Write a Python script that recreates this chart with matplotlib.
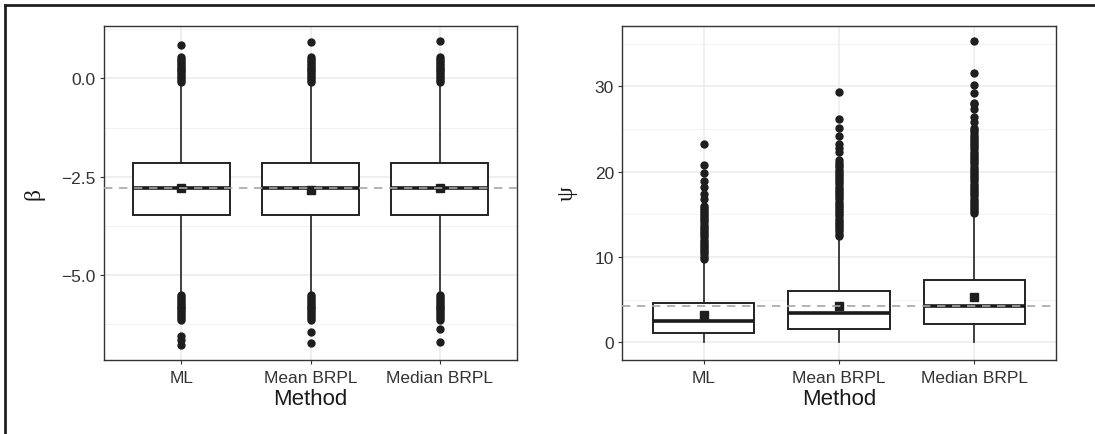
import matplotlib
matplotlib.use("Agg")
import matplotlib.pyplot as plt
from matplotlib.lines import Line2D

plt.rcParams['font.family'] = ['Liberation Sans', 'DejaVu Sans']

methods = ['ML', 'Mean BRPL', 'Median BRPL']

# beta: box statistics
beta_q1 = [-3.48, -3.48, -3.48]
beta_med = [-2.80, -2.80, -2.80]
beta_q3 = [-2.14, -2.14, -2.14]
beta_whislo = [-5.45, -5.45, -5.45]
beta_whishi = [-0.14, -0.14, -0.14]
beta_mean = [-2.79, -2.83, -2.79]
beta_upper = [-0.10, -0.05, 0.00, 0.05, 0.10, 0.15, 0.20, 0.25, 0.30, 0.35, 0.40,
              0.45, 0.50, 0.54]
beta_lower = [-5.50, -5.55, -5.60, -5.65, -5.70, -5.75, -5.80, -5.85, -5.90, -5.95,
              -6.00, -6.05, -6.10, -6.15]
beta_fliers_ml = beta_upper + [0.86] + beta_lower + [-6.55, -6.65, -6.78]
beta_fliers_mean = beta_upper + [0.92] + beta_lower + [-6.46, -6.72]
beta_fliers_median = beta_upper + [0.96] + beta_lower + [-6.36, -6.70]
beta_true = -2.80

# psi
psi_q1 = [1.13, 1.60, 2.15]
psi_med = [2.53, 3.40, 4.26]
psi_q3 = [4.60, 6.02, 7.34]
psi_whislo = [0.0, 0.0, 0.0]
psi_whishi = [9.7, 12.4, 15.0]
psi_mean = [3.20, 4.22, 5.28]
psi_fliers_ml = [9.8, 10.05, 10.3, 10.55, 10.8, 11.05, 11.3, 11.55, 11.8, 12.05, 12.3,
                 12.55, 12.8, 13.05, 13.3, 13.55, 13.8, 14.05, 14.3, 14.55, 14.8, 15.05,
                 15.3, 15.55, 15.8, 16.0, 16.8, 17.4, 18.2, 18.9, 19.9, 20.8, 23.3]
psi_fliers_mean = [12.5, 12.75, 13.0, 13.25, 13.5, 13.75, 14.0, 14.25, 14.5, 14.75,
                   15.0, 15.25, 15.5, 15.75, 16.0, 16.25, 16.5, 16.75, 17.0, 17.25,
                   17.5, 17.75, 18.0, 18.25, 18.5, 18.75, 19.0, 19.25, 19.5, 19.75,
                   20.0, 20.25, 20.5, 20.75, 21.0, 21.4, 22.3, 22.8, 23.2, 24.2, 25.1,
                   26.2, 29.3]
psi_fliers_median = [15.1, 15.35, 15.6, 15.85, 16.1, 16.35, 16.6, 16.85, 17.1, 17.35,
                     17.6, 17.85, 18.1, 18.35, 18.6, 18.85, 19.1, 19.35, 19.6, 19.85,
                     20.1, 20.35, 20.6, 20.85, 21.1, 21.35, 21.6, 21.85, 22.1, 22.35,
                     22.6, 22.85, 23.1, 23.35, 23.6, 23.85, 24.1, 24.35, 24.6, 24.85,
                     25.1, 25.8, 26.4, 27.4, 27.9, 28.1, 29.2, 30.2, 31.6, 35.3]
psi_true = 4.22


def make_stats(q1, med, q3, lo, hi, mean, fliers):
    return [dict(q1=q1[i], med=med[i], q3=q3[i], whislo=lo[i], whishi=hi[i],
                 mean=mean[i], fliers=fliers[i], label=methods[i]) for i in range(3)]


def draw_panel(ax, stats, true_val, ylabel, ylim, major, minor):
    ax.set_facecolor('white')
    for y in major:
        ax.axhline(y, color='#EBEBEB', lw=1.1, zorder=0)
    for y in minor:
        ax.axhline(y, color='#F2F2F2', lw=0.7, zorder=0)
    for x in [1, 2, 3]:
        ax.axvline(x, color='#EBEBEB', lw=1.1, zorder=0)

    ax.bxp(stats, positions=[1, 2, 3], widths=0.75, showmeans=True, patch_artist=True,
           boxprops=dict(facecolor='white', edgecolor='#222222', linewidth=1.4),
           medianprops=dict(color='#1a1a1a', linewidth=2.6),
           whiskerprops=dict(color='#222222', linewidth=1.2),
           capprops=dict(linewidth=0),
           flierprops=dict(marker='o', markerfacecolor='#1e1e1e', markeredgecolor='#1e1e1e',
                           markersize=5.0),
           meanprops=dict(marker='s', markerfacecolor='#1e1e1e', markeredgecolor='#1e1e1e',
                          markersize=5.5),
           zorder=2)
    ax.axhline(true_val, color='#A6A6A6', lw=1.2, ls=(0, (5, 4)), zorder=5)

    ax.set_xlim(0.4, 3.6)
    ax.set_ylim(*ylim)
    ax.set_yticks(major)
    ax.set_xticks([1, 2, 3])
    ax.set_xticklabels(methods)
    ax.tick_params(axis='both', colors='#333333', labelcolor='#333333', labelsize=12.5,
                   length=3, width=0.8, pad=3)
    ax.tick_params(axis='x', pad=4)
    for s in ax.spines.values():
        s.set_color('#333333')
        s.set_linewidth(1.0)
    ax.set_xlabel('Method', fontsize=16, color='#1a1a1a', labelpad=2)
    ax.set_ylabel(ylabel, fontsize=17, color='#1a1a1a', family=['Liberation Serif', 'DejaVu Serif'],
                  labelpad=12)


fig = plt.figure(figsize=(10.95, 4.35), dpi=100)
ax1 = fig.add_axes([0.0950, 0.1701, 0.3772, 0.7678])
ax2 = fig.add_axes([0.5683, 0.1701, 0.3958, 0.7678])

beta_stats = make_stats(beta_q1, beta_med, beta_q3, beta_whislo, beta_whishi, beta_mean,
                        [beta_fliers_ml, beta_fliers_mean, beta_fliers_median])
psi_stats = make_stats(psi_q1, psi_med, psi_q3, psi_whislo, psi_whishi, psi_mean,
                       [psi_fliers_ml, psi_fliers_mean, psi_fliers_median])

draw_panel(ax1, beta_stats, beta_true, 'β', (-7.16, 1.33),
           [-5.0, -2.5, 0.0], [-6.25, -3.75, -1.25, 1.25])
ax1.set_yticklabels(['\u22125.0', '\u22122.5', '0.0'])
draw_panel(ax2, psi_stats, psi_true, 'ψ', (-2.07, 37.07),
           [0, 10, 20, 30], [5, 15, 25, 35])

# outer frame (left and top edges visible)
fig.add_artist(Line2D([5 / 1095, 5 / 1095], [0, 1 - 6 / 435], transform=fig.transFigure,
                      color='#231f20', lw=2.0))
fig.add_artist(Line2D([5 / 1095, 1094 / 1095], [1 - 6 / 435, 1 - 6 / 435],
                      transform=fig.transFigure, color='#231f20', lw=2.0))

fig.savefig('out.png', dpi=100)
